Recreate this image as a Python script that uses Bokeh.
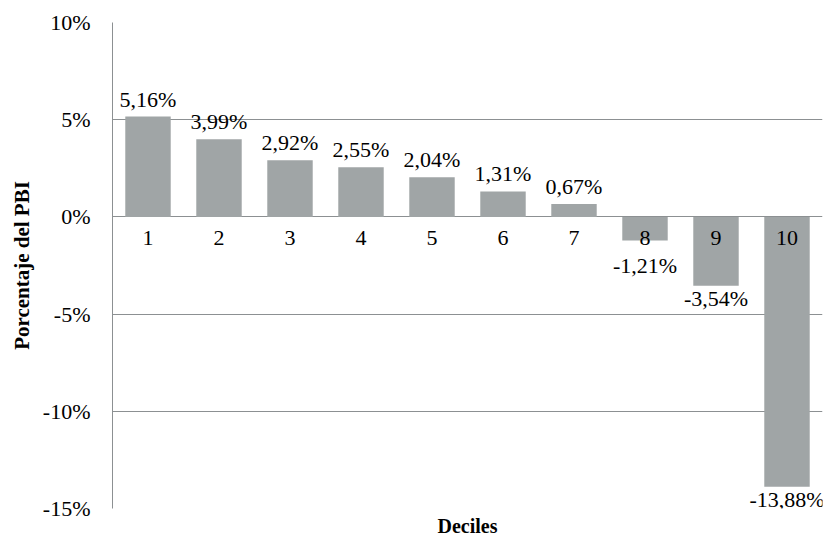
from bokeh.plotting import figure
from bokeh.models import ColumnDataSource, FixedTicker, Title, LabelSet
from bokeh.embed import file_html
from bokeh.resources import INLINE

deciles = [1, 2, 3, 4, 5, 6, 7, 8, 9, 10]
category_labels = ["1", "2", "3", "4", "5", "6", "7", "8", "9", "10"]
values = [5.16, 3.99, 2.92, 2.55, 2.04, 1.31, 0.67, -1.21, -3.54, -13.88]
y_ticks = [-15, -10, -5, 0, 5, 10]
y_tick_labels = ["-15%", "-10%", "-5%", "0%", "5%", "10%"]
x_title = "Deciles"
y_title = "Porcentaje del PBI"

FONT = "Liberation Serif"
GRID = "#8c9092"
BAR = "#a0a5a6"
CAT_CLEAR = -1.85  # data labels of negative bars start below the category labels

value_labels = [("%.2f" % v).replace(".", ",") + "%" for v in values]
pos_x = [d for d, v in zip(deciles, values) if v >= 0]
pos_y = [v for v in values if v >= 0]
pos_t = [t for t, v in zip(value_labels, values) if v >= 0]
neg_x = [d for d, v in zip(deciles, values) if v < 0]
neg_y = [min(v, CAT_CLEAR) for v in values if v < 0]
neg_t = [t for t, v in zip(value_labels, values) if v < 0]

src = ColumnDataSource(dict(x=deciles, top=values, cat=category_labels, zero=[0] * len(deciles)))
src_pos = ColumnDataSource(dict(x=pos_x, y=pos_y, t=pos_t))
src_neg = ColumnDataSource(dict(x=neg_x, y=neg_y, t=neg_t))

x_lo, x_hi = 0.5, 10.5
p = figure(width=824, height=541, output_backend="svg", toolbar_location=None,
           x_range=(x_lo, x_hi), y_range=(y_ticks[0], y_ticks[-1]),
           min_border_left=112, min_border_right=2, min_border_top=22, min_border_bottom=10)
p.outline_line_color = None
p.background_fill_color = "white"

p.vbar(x="x", top="top", bottom=0, width=0.64, source=src, fill_color=BAR, line_color=None)

p.xaxis.visible = False
p.xgrid.visible = False
p.ygrid.ticker = FixedTicker(ticks=y_ticks)
p.ygrid.grid_line_color = GRID
p.ygrid.grid_line_width = 1

ax = p.yaxis[0]
ax.ticker = FixedTicker(ticks=y_ticks)
ax.major_label_overrides = {t: l for t, l in zip(y_ticks, y_tick_labels)}
ax.major_tick_line_color = None
ax.major_tick_out = 0
ax.major_tick_in = 0
ax.minor_tick_line_color = None
ax.minor_tick_out = 0
ax.axis_line_color = GRID
ax.major_label_standoff = 22
ax.major_label_text_font = FONT
ax.major_label_text_font_size = "22px"
ax.major_label_text_color = "black"
ax.axis_label = y_title
ax.axis_label_text_font = FONT
ax.axis_label_text_font_size = "21px"
ax.axis_label_text_font_style = "bold"
ax.axis_label_text_color = "black"
ax.axis_label_standoff = 6

p.add_layout(LabelSet(x="x", y="zero", text="cat", source=src, text_align="center",
                      text_baseline="top", y_offset=-14, text_font=FONT,
                      text_font_size="22px", text_color="black"))
p.add_layout(LabelSet(x="x", y="y", text="t", source=src_pos, text_align="center",
                      text_baseline="bottom", y_offset=5, text_font=FONT,
                      text_font_size="22px", text_color="black"))
p.add_layout(LabelSet(x="x", y="y", text="t", source=src_neg, text_align="center",
                      text_baseline="top", y_offset=0, text_font=FONT,
                      text_font_size="22px", text_color="black"))

p.add_layout(Title(text=x_title, align="center", text_font=FONT, text_font_size="20px",
                   text_font_style="bold", text_color="black", standoff=9), "below")

open("out.html", "w").write(file_html(p, INLINE))
